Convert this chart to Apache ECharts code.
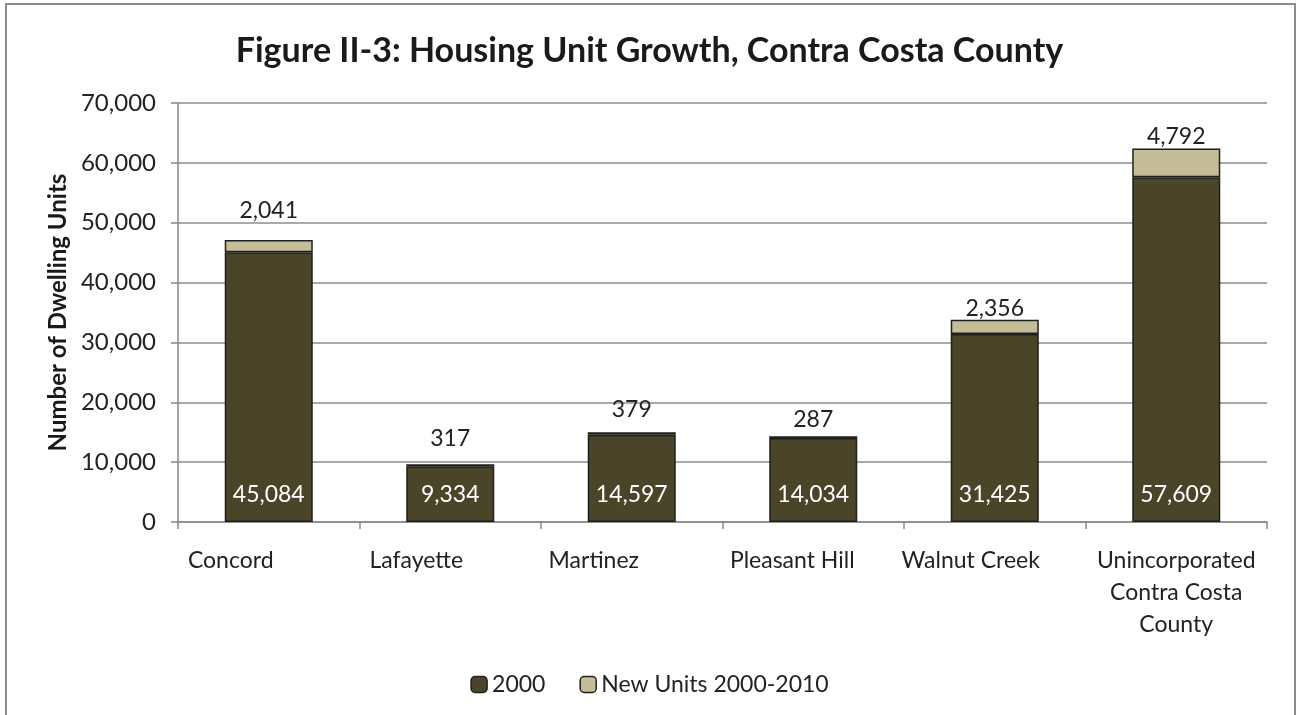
<!DOCTYPE html>
<html>
<head>
<meta charset="utf-8">
<script src="https://cdn.jsdelivr.net/npm/echarts@6/dist/echarts.min.js"></script>
<style>
html,body{margin:0;padding:0;background:#fff;}
#frame{position:absolute;left:5px;top:3px;width:1291px;height:740px;border:2px solid #8c8c8c;box-sizing:border-box;}
#chart{position:absolute;left:0;top:0;width:1299px;height:715px;}
</style>
</head>
<body>
<div id="frame"></div>
<div id="chart"></div>
<script>
const categories = ['Concord', 'Lafayette', 'Martinez', 'Pleasant Hill', 'Walnut Creek', 'Unincorporated\nContra Costa\nCounty'];
const units2000 = [45084, 9334, 14597, 14034, 31425, 57609];
const newUnits = [2041, 317, 379, 287, 2356, 4792];
const yTicks = [0, 10000, 20000, 30000, 40000, 50000, 60000, 70000];
// horizontal shift of each category label as drawn in the reference (px, negative = left)
const labelShift = [-38, -34, -38, -21, -24, 0];
// gap between each bar top and its "new units" label, as placed in the reference (px)
const topLabelGap = [18, 14, 11, 5, 0, 0];

const FONT = 'Lato, "Open Sans", sans-serif';
const fmt = v => v.toLocaleString('en-US');

const rich = {};
labelShift.forEach((s, i) => {
  rich['c' + i] = {
    fontFamily: FONT, fontSize: 23, color: '#222', lineHeight: 32,
    padding: s < 0 ? [0, -2 * s, 0, 0] : [0, 0, 0, 2 * s]
  };
});

const chart = echarts.init(document.getElementById('chart'), null, {renderer: 'canvas'});
chart.setOption({
  animation: false,
  backgroundColor: 'transparent',
  title: {
    text: 'Figure II-3: Housing Unit Growth, Contra Costa County',
    left: 'center',
    top: 29,
    textStyle: {fontFamily: FONT, fontSize: 34, fontWeight: 'bold', color: '#1a1a1a'}
  },
  legend: {
    bottom: 14,
    left: 'center',
    itemWidth: 16,
    itemHeight: 16,
    itemGap: 34,
    textStyle: {fontFamily: FONT, fontSize: 23, color: '#222'},
    data: [
      {name: '2000', itemStyle: {borderColor: '#1f1f1f', borderWidth: 1.5}},
      {name: 'New Units 2000-2010', itemStyle: {borderColor: '#1f1f1f', borderWidth: 1.5}}
    ]
  },
  grid: {left: 178, right: 32, top: 103, bottom: 193},
  xAxis: {
    type: 'category',
    data: categories,
    axisLine: {lineStyle: {color: '#888', width: 1.5}},
    axisTick: {show: true, length: 7, lineStyle: {color: '#888', width: 1.5}},
    axisLabel: {
      fontFamily: FONT, fontSize: 23, color: '#222', margin: 23, lineHeight: 32, interval: 0,
      formatter: (v, i) => v.split('\n').map(t => '{c' + i + '|' + t + '}').join('\n'),
      rich: rich
    }
  },
  yAxis: {
    type: 'value',
    min: 0,
    max: 70000,
    interval: 10000,
    name: 'Number of Dwelling Units',
    nameLocation: 'middle',
    nameGap: 107,
    nameTextStyle: {fontFamily: FONT, fontSize: 24, fontWeight: 'bold', color: '#1a1a1a'},
    axisLine: {show: true, lineStyle: {color: '#888', width: 1.5}},
    axisTick: {show: true, length: 7, lineStyle: {color: '#888', width: 1.5}},
    splitLine: {lineStyle: {color: '#8c8c8c', width: 1.5}},
    axisLabel: {fontFamily: FONT, fontSize: 24, color: '#222', margin: 22, formatter: v => yTicks.includes(v) ? fmt(v) : ''}
  },
  series: [
    {
      name: '2000',
      type: 'bar',
      stack: 'total',
      barWidth: '48.5%',
      data: units2000,
      itemStyle: {color: '#4a4429', borderColor: '#1f1f1f', borderWidth: 1.5},
      label: {show: true, position: 'insideBottom', distance: 16, color: '#fff', fontFamily: FONT, fontSize: 23, formatter: p => fmt(p.value)}
    },
    {
      name: 'New Units 2000-2010',
      type: 'bar',
      stack: 'total',
      data: newUnits.map((v, i) => ({value: v, label: {distance: topLabelGap[i]}})),
      itemStyle: {color: '#c4bd97', borderColor: '#1f1f1f', borderWidth: 1.5},
      label: {show: true, position: 'top', color: '#222', fontFamily: FONT, fontSize: 23, formatter: p => fmt(p.value)}
    }
  ]
});
</script>
</body>
</html>
